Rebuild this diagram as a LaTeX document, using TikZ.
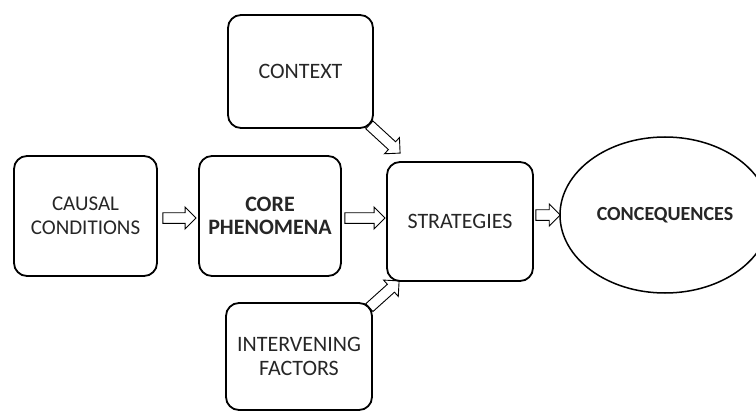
\documentclass[tikz,border=0pt]{standalone}
\usepackage{fontspec}
\setmainfont{Carlito}
\usetikzlibrary{calc,shapes.geometric}
\begin{document}
\begin{tikzpicture}[x=1pt,y=-1pt,
  box/.style={draw, line width=1.8pt, rounded corners=13pt, align=center,
    font=\fontsize{22}{23.5}\selectfont, inner sep=0pt, text=black!85},
  smallbox/.style={box, font=\fontsize{21}{23.5}\selectfont},
  conc/.style={draw, ellipse, line width=1.5pt, inner sep=0pt,
    font=\bfseries\fontsize{20}{23}\selectfont, text=black!85},
  blockarrow/.style={draw, line width=0.9pt, line join=miter, to path={
    ($(\tikztostart)!5.3pt!90:(\tikztotarget)$)
    -- ($(\tikztotarget)!11pt!(\tikztostart)!5.3pt!-90:(\tikztostart)$)
    -- ($(\tikztotarget)!11pt!(\tikztostart)!11pt!-90:(\tikztostart)$)
    -- (\tikztotarget)
    -- ($(\tikztotarget)!11pt!(\tikztostart)!11pt!90:(\tikztostart)$)
    -- ($(\tikztotarget)!11pt!(\tikztostart)!5.3pt!90:(\tikztostart)$)
    -- ($(\tikztostart)!5.3pt!-90:(\tikztotarget)$) -- cycle}}]
\useasboundingbox (0,0) rectangle (756,412);
\clip (0,0) rectangle (756,412);

\node[smallbox, minimum width=143pt, minimum height=120pt] (causal) at (85.5,216) {CAUSAL\\CONDITIONS};
\node[box, minimum width=142pt, minimum height=120pt] (core) at (270,216) {\textbf{CORE}\\\textbf{PHENOMENA}};
\node[box, minimum width=146pt, minimum height=119pt] (strat) at (460,221.5) {STRATEGIES};
\node[box, minimum width=145pt, minimum height=113pt] (context) at (300.5,71.5) {CONTEXT};
\node[box, minimum width=146pt, minimum height=107pt] (interv) at (299,356.5) {INTERVENING\\FACTORS};
\node[conc, minimum width=210pt, minimum height=156pt] (conseq) at (665,215) {CONCEQUENCES};

\draw[blockarrow] ([shift={(5,2)}]causal.east) to ([shift={(-2,2)}]core.west);
\draw[blockarrow] ([shift={(3,2)}]core.east) to ([shift={(-1,-3.5)}]strat.west);
\draw[blockarrow] ([shift={(2,-6.5)}]strat.east) to ([shift={(1,0)}]conseq.west);
\draw[blockarrow] ([shift={(-4.5,-4)}]context.south east) to ([shift={(14,-8)}]strat.north west);
\draw[blockarrow] ([shift={(-3.5,5.5)}]interv.north east) to ([shift={(13,-1)}]strat.south west);
\end{tikzpicture}
\end{document}
